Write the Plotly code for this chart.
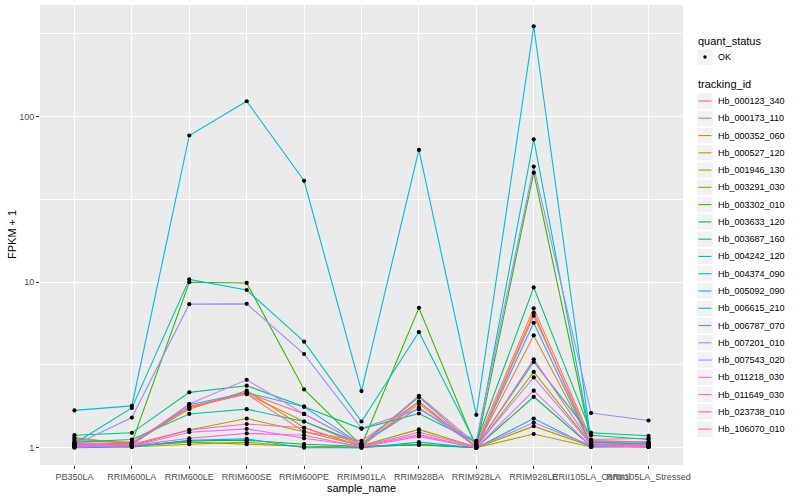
import plotly.graph_objects as go

samples = ["PB350LA", "RRIM600LA", "RRIM600LE", "RRIM600SE", "RRIM600PE", "RRIM901LA",
           "RRIM928BA", "RRIM928LA", "RRIM928LE", "RRII105LA_Control", "RRII105LA_Stressed"]

tracking_ids = ["Hb_000123_340", "Hb_000173_110", "Hb_000352_060", "Hb_000527_120", "Hb_001946_130",
                "Hb_003291_030", "Hb_003302_010", "Hb_003633_120", "Hb_003687_160", "Hb_004242_120",
                "Hb_004374_090", "Hb_005092_090", "Hb_006615_210", "Hb_006787_070", "Hb_007201_010",
                "Hb_007543_020", "Hb_011218_030", "Hb_011649_030", "Hb_023738_010", "Hb_106070_010"]

# FPKM + 1 per sample (order of `samples`)
hb_000123_340 = [1.10, 1.08, 1.77, 2.15, 1.60, 1.05, 2.06, 1.05, 6.95, 1.12, 1.14]
hb_000173_110 = [1.15, 1.05, 1.75, 2.11, 1.44, 1.03, 1.84, 1.01, 4.77, 1.05, 1.03]
hb_000352_060 = [1.13, 1.06, 1.71, 2.21, 1.32, 1.02, 1.90, 1.00, 6.54, 1.03, 1.02]
hb_000527_120 = [1.02, 1.01, 1.05, 1.08, 1.01, 1.00, 1.05, 1.00, 1.21, 1.01, 1.01]
hb_001946_130 = [1.05, 1.03, 1.28, 1.50, 1.25, 1.03, 1.29, 1.01, 2.87, 1.05, 1.04]
hb_003291_030 = [1.01, 1.02, 1.08, 1.05, 1.02, 1.01, 1.05, 1.00, 1.35, 1.02, 1.01]
hb_003302_010 = [1.03, 1.07, 10.0, 9.9, 2.25, 1.03, 7.0, 1.00, 45.9, 1.08, 1.05]
hb_003633_120 = [1.02, 1.02, 1.10, 1.11, 1.05, 1.02, 1.04, 1.00, 2.03, 1.02, 1.03]
hb_003687_160 = [1.19, 1.23, 2.16, 2.37, 1.77, 1.30, 1.61, 1.08, 9.3, 1.23, 1.18]
hb_004242_120 = [1.08, 1.12, 1.60, 1.71, 1.44, 1.06, 1.74, 1.02, 3.30, 1.19, 1.12]
hb_004374_090 = [1.06, 1.74, 10.4, 8.97, 4.37, 1.44, 5.0, 1.04, 73.0, 1.10, 1.08]
hb_005092_090 = [1.68, 1.79, 77.0, 124.0, 41.0, 2.20, 63.0, 1.58, 352.0, 1.08, 1.06]
hb_006615_210 = [1.00, 1.01, 1.11, 1.13, 1.00, 1.00, 1.08, 1.00, 1.50, 1.01, 1.02]
hb_006787_070 = [1.06, 1.04, 1.82, 2.15, 1.77, 1.04, 2.02, 1.01, 5.69, 1.04, 1.05]
hb_007201_010 = [1.04, 1.52, 7.37, 7.4, 3.68, 1.31, 1.71, 1.10, 50.0, 1.62, 1.46]
hb_007543_020 = [1.03, 1.05, 1.84, 2.57, 1.60, 1.05, 1.74, 1.02, 2.66, 1.04, 1.03]
hb_011218_030 = [1.02, 1.02, 1.24, 1.30, 1.14, 1.02, 1.20, 1.00, 2.21, 1.02, 1.02]
hb_011649_030 = [1.01, 1.03, 1.14, 1.22, 1.19, 1.01, 1.17, 1.00, 1.42, 1.03, 1.01]
hb_023738_010 = [1.04, 1.05, 1.28, 1.39, 1.32, 1.02, 1.24, 1.01, 3.42, 1.06, 1.04]
hb_106070_010 = [1.07, 1.06, 1.77, 2.11, 1.25, 1.10, 1.90, 1.01, 6.27, 1.10, 1.08]

series_values = [hb_000123_340, hb_000173_110, hb_000352_060, hb_000527_120, hb_001946_130,
                 hb_003291_030, hb_003302_010, hb_003633_120, hb_003687_160, hb_004242_120,
                 hb_004374_090, hb_005092_090, hb_006615_210, hb_006787_070, hb_007201_010,
                 hb_007543_020, hb_011218_030, hb_011649_030, hb_023738_010, hb_106070_010]

hue_colors = ["#F8766D", "#EA8331", "#D89000", "#C09B00", "#A3A500", "#7CAE00", "#39B600",
              "#00BB4E", "#00BF7D", "#00C1A3", "#00BFC4", "#00BAE0", "#00B0F6", "#35A2FF",
              "#9590FF", "#C77CFF", "#E76BF3", "#FA62DB", "#FF62BC", "#FF6C91"]

y_ticks = [1, 10, 100]
y_tick_labels = ["1", "10", "100"]
y_minor = [10 ** 0.5, 10 ** 1.5, 10 ** 2.5]

FONT = "Liberation Sans, Arial, sans-serif"
W, H = 800, 500
ML, MR, MT, MB = 40, 117, 5, 35
PW, PH = W - ML - MR, H - MT - MB

fig = go.Figure()

for tid, vals, col in zip(tracking_ids, series_values, hue_colors):
    fig.add_trace(go.Scatter(x=samples, y=vals, mode="lines", name=tid,
                             line=dict(color=col, width=1.1), showlegend=False,
                             hoverinfo="x+y+name"))

all_x, all_y = [], []
for vals in series_values:
    all_x += samples
    all_y += vals
fig.add_trace(go.Scatter(x=all_x, y=all_y, mode="markers", name="OK",
                         marker=dict(color="black", size=4.2), showlegend=False))


def px_to_paper(xp, yp):
    return (xp - ML) / PW, (H - MB - yp) / PH


shapes = []
annotations = []

# legend: quant_status
tx, ty = px_to_paper(696, 41)
annotations.append(dict(text="quant_status", x=tx, y=ty, xref="paper", yref="paper",
                        xanchor="left", yanchor="middle", showarrow=False,
                        font=dict(family=FONT, size=11, color="black")))
key_w = 15.5


def key_box(cy):
    x0, y0 = px_to_paper(705 - key_w / 2, cy - key_w / 2)
    x1, y1 = px_to_paper(705 + key_w / 2, cy + key_w / 2)
    return dict(type="rect", xref="paper", yref="paper", x0=x0, x1=x1, y0=y0, y1=y1,
                fillcolor="#F2F2F2", line=dict(width=0), layer="above")


shapes.append(key_box(57))
cx, cy = px_to_paper(705, 57)
dx, dy = 1.7 / PW, 1.7 / PH
shapes.append(dict(type="circle", xref="paper", yref="paper", x0=cx - dx, x1=cx + dx,
                   y0=cy - dy, y1=cy + dy, fillcolor="black", line=dict(width=0), layer="above"))
lx, ly = px_to_paper(716, 57)
annotations.append(dict(text="OK", x=lx, y=ly, xref="paper", yref="paper", xanchor="left",
                        yanchor="middle", showarrow=False,
                        font=dict(family=FONT, size=9, color="black")))

# legend: tracking_id
tx, ty = px_to_paper(696, 84.5)
annotations.append(dict(text="tracking_id", x=tx, y=ty, xref="paper", yref="paper",
                        xanchor="left", yanchor="middle", showarrow=False,
                        font=dict(family=FONT, size=11, color="black")))
for i, (tid, col) in enumerate(zip(tracking_ids, hue_colors)):
    cyp = 101 + i * 17.27
    shapes.append(key_box(cyp))
    x0, yy = px_to_paper(698.5, cyp)
    x1, _ = px_to_paper(711.5, cyp)
    shapes.append(dict(type="line", xref="paper", yref="paper", x0=x0, x1=x1, y0=yy, y1=yy,
                       line=dict(color=col, width=1.1), layer="above"))
    lx, ly = px_to_paper(716, cyp)
    annotations.append(dict(text=tid, x=lx, y=ly, xref="paper", yref="paper", xanchor="left",
                            yanchor="middle", showarrow=False,
                            font=dict(family=FONT, size=9, color="black")))

# axis titles
ax, ay = px_to_paper(ML + PW / 2, 488)
annotations.append(dict(text="sample_name", x=0.5, y=ay, xref="paper", yref="paper",
                        xanchor="center", yanchor="middle", showarrow=False,
                        font=dict(family=FONT, size=11, color="black")))
bx, by = px_to_paper(12, MT + PH / 2)
annotations.append(dict(text="FPKM + 1", x=bx, y=0.5, xref="paper", yref="paper",
                        xanchor="center", yanchor="middle", showarrow=False, textangle=-90,
                        font=dict(family=FONT, size=11, color="black")))

fig.update_layout(
    width=W, height=H,
    margin=dict(l=ML, r=MR, t=MT, b=MB, pad=0),
    paper_bgcolor="white", plot_bgcolor="#EBEBEB",
    font=dict(family=FONT, size=9, color="#4D4D4D"),
    shapes=shapes, annotations=annotations,
    hovermode="closest",
)
fig.update_xaxes(
    type="category", categoryorder="array", categoryarray=samples,
    range=[-0.6, len(samples) - 1 + 0.6], tickangle=0,
    showgrid=True, gridcolor="white", gridwidth=1.1, zeroline=False, showline=False,
    ticks="outside", ticklen=3, tickwidth=1, tickcolor="#333333",
    tickfont=dict(family=FONT, size=9, color="#4D4D4D"), automargin=False,
)
fig.update_yaxes(
    type="log", range=[-0.1045, 2.675],
    tickvals=y_ticks, ticktext=y_tick_labels,
    showgrid=True, gridcolor="white", gridwidth=1.1, zeroline=False, showline=False,
    ticks="outside", ticklen=3, tickwidth=1, tickcolor="#333333",
    tickfont=dict(family=FONT, size=9, color="#4D4D4D"), automargin=False,
    minor=dict(tickvals=y_minor, showgrid=True, gridcolor="white", gridwidth=0.55, ticks=""),
)

fig.write_html("out.html", config={"displayModeBar": False},
               post_script="document.body.style.margin='0';")
